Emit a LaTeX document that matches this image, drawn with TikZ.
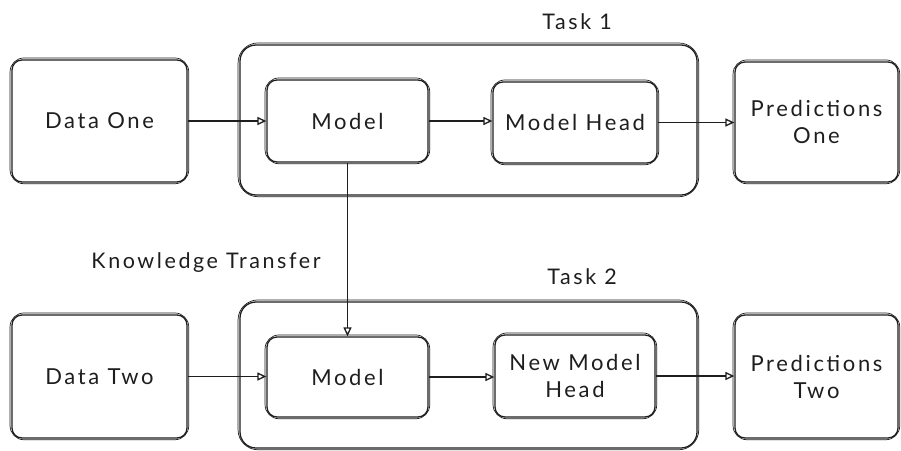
\documentclass[tikz,border=0pt]{standalone}
\usepackage{fontspec}
\setmainfont{Lato}[LetterSpace=12]
\usetikzlibrary{arrows.meta,calc}
\definecolor{ink}{HTML}{1E1E1E}
\tikzset{
  sketch/.style={draw=ink, line width=1.3pt, rounded corners=#1, fill=none},
  sketch/.default=10pt,
  box/.style={sketch, inner sep=0pt, align=center, font=\fontsize{22}{27}\selectfont, text=ink},
  group/.style={sketch=16pt, inner sep=0pt},
  lbl/.style={font=\fontsize{21.5}{25}\selectfont, text=ink, inner sep=0pt},
  flow/.style={draw=ink, line width=1.2pt, -{Triangle[open, length=9pt, width=8pt, line width=1.3pt]}},
  retrace/.style={draw=ink, line width=0.7pt},
}
% second, slightly offset pen stroke around a named node
\newcommand\retraceof[2][10pt]{%
  \draw[retrace, rounded corners=#1+4pt]
    ($(#2.south west)+(-1.3,1.1)$) rectangle ($(#2.north east)+(1.1,-1.4)$);}
\begin{document}
\begin{tikzpicture}[x=1pt, y=-1pt]
  \useasboundingbox (0,0) rectangle (901,450);
  \fill[white] (0,0) rectangle (901,450);

  % task containers
  \node[group, minimum width=457pt, minimum height=150pt] (t1) at (468.5,120) {};
  \node[group, minimum width=457pt, minimum height=146pt] (t2) at (468.5,375) {};
  \retraceof[16pt]{t1}
  \retraceof[16pt]{t2}
  \node[lbl] (t1l) at (577,22) {Task 1};
  \node[lbl] (t2l) at (582,277) {Task 2};

  % first row
  \node[box, minimum width=175pt, minimum height=122pt] (d1) at (99.5,121) {Data One};
  \node[box, minimum width=161pt, minimum height=82pt] (m1) at (347.5,121) {Model};
  \node[box, minimum width=164pt, minimum height=81pt] (h1) at (575,122.5) {Model Head};
  \node[box, minimum width=163pt, minimum height=120pt] (p1) at (816.5,122) {Predictions\\One};

  % second row
  \node[box, minimum width=175pt, minimum height=123pt] (d2) at (99.5,376.5) {Data Two};
  \node[box, minimum width=161pt, minimum height=80pt] (m2) at (347.5,377) {Model};
  \node[box, minimum width=160pt, minimum height=82pt] (h2) at (575,376) {New Model\\Head};
  \node[box, minimum width=163pt, minimum height=123pt] (p2) at (816.5,376.5) {Predictions\\Two};

  \foreach \n in {d1,m1,h1,p1,d2,m2,h2,p2} {\retraceof{\n}}

  \node[lbl] (kt) at (206,263) {Knowledge Transfer};

  % connectors
  \draw[flow] (d1.east) -- (m1.west);
  \draw[flow] (m1.east) -- (h1.west |- m1.east);
  \draw[flow] (h1.east) -- (p1.west |- h1.east);
  \draw[flow] (d2.east) -- (m2.west |- d2.east);
  \draw[flow] (m2.east) -- (h2.west |- m2.east);
  \draw[flow] (h2.east) -- (p2.west |- h2.east);
  \draw[flow] (m1.south) -- (m2.north);
\end{tikzpicture}
\end{document}
